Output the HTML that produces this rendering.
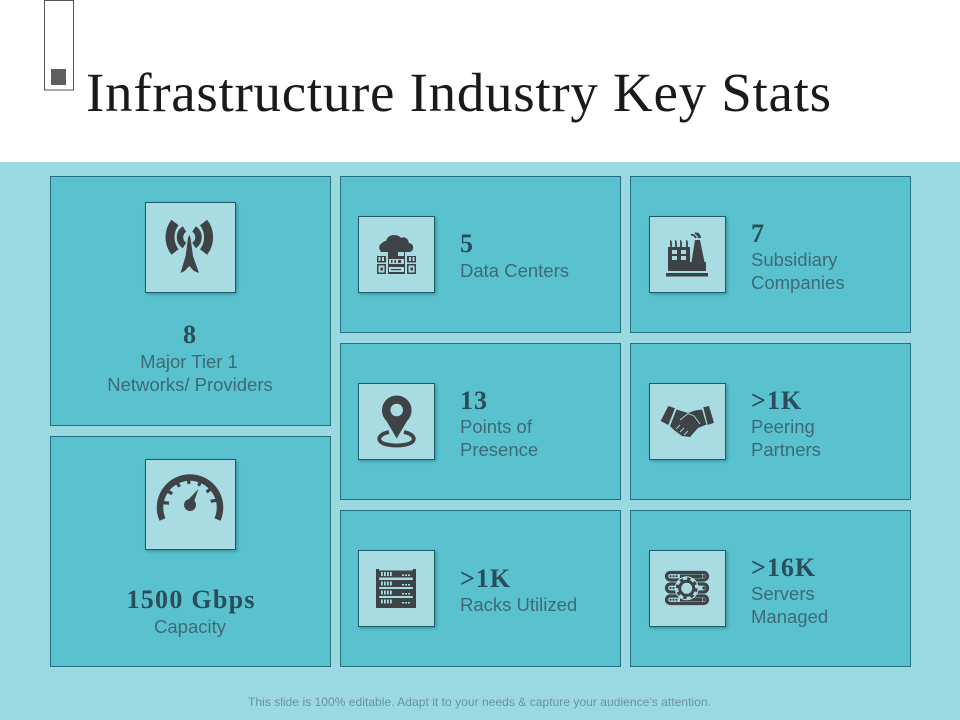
<!DOCTYPE html>
<html lang="en">
<head>
<meta charset="utf-8">
<title>Infrastructure Industry Key Stats</title>
<style>
html,body{margin:0;padding:0;background:#fff;}
svg{display:block;}
.card{fill:#5ac2cf;stroke:#23727e;stroke-width:1;}
.box{fill:#a9dbe2;stroke:#1c5a66;stroke-width:1;filter:url(#shadow);}
.num{font-family:"Liberation Serif",serif;font-weight:bold;font-size:26px;fill:#2b4c5a;letter-spacing:1px;}
.lab{font-family:"Liberation Sans",sans-serif;font-size:18.5px;fill:#3d6a76;}
.ink{fill:#3d4346;}
.inkl{fill:none;stroke:#3d4346;}
.lt{fill:#a9dbe2;}
.ltl{fill:none;stroke:#a9dbe2;}
</style>
</head>
<body>
<svg xmlns="http://www.w3.org/2000/svg" width="960" height="720" viewBox="0 0 960 720">
<defs>
<filter id="shadow" x="-10%" y="-10%" width="125%" height="125%"><feDropShadow dx="1.5" dy="1.5" stdDeviation="1.5" flood-color="#1c5a66" flood-opacity=".45"/></filter>
</defs>
<rect x="0" y="0" width="960" height="162" fill="#ffffff"/>
<rect x="0" y="162" width="960" height="558" fill="#9bd9e2"/>

<g>
<rect x="44.5" y="0.5" width="29" height="89.5" fill="#fff" stroke="#555" stroke-width="1"/>
<rect x="51" y="69" width="15" height="16" fill="#5e5e5e"/>
</g>
<text x="86" y="111" font-family="'Liberation Serif',serif" font-size="55" fill="#1a1a1a" textLength="745" lengthAdjust="spacing">Infrastructure Industry Key Stats</text>

<rect class="card" x="50.5" y="176.5" width="280" height="249"/>
<rect class="card" x="50.5" y="436.5" width="280" height="230"/>
<rect class="card" x="340.5" y="176.5" width="280" height="156"/>
<rect class="card" x="340.5" y="343.5" width="280" height="156"/>
<rect class="card" x="340.5" y="510.5" width="280" height="156"/>
<rect class="card" x="630.5" y="176.5" width="280" height="156"/>
<rect class="card" x="630.5" y="343.5" width="280" height="156"/>
<rect class="card" x="630.5" y="510.5" width="280" height="156"/>

<rect class="box" x="145.5" y="202.5" width="90" height="90"/>
<rect class="box" x="145.5" y="459.5" width="90" height="90"/>
<rect class="box" x="358.5" y="216.5" width="76" height="76"/>
<rect class="box" x="358.5" y="383.5" width="76" height="76"/>
<rect class="box" x="358.5" y="550.5" width="76" height="76"/>
<rect class="box" x="649.5" y="216.5" width="76" height="76"/>
<rect class="box" x="649.5" y="383.5" width="76" height="76"/>
<rect class="box" x="649.5" y="550.5" width="76" height="76"/>

<g>
<path class="ink" d="M189.3 235 L190.5 238 L193 256 L199 273 L194 271 L189.3 266 L184.6 271 L180.5 273 L185.6 256 L188 238 Z"/>
<path class="inkl" stroke-width="9" d="M175 222.5 A24.3 24.3 0 0 0 175 252"/>
<path class="inkl" stroke-width="9" d="M203.6 222.5 A24.3 24.3 0 0 1 203.6 252"/>
<path class="inkl" stroke-width="6.5" d="M184.5 229 A9.8 9.8 0 0 0 184.5 245.5"/>
<path class="inkl" stroke-width="6.5" d="M194 229 A9.8 9.8 0 0 1 194 245.5"/>
</g>

<g>
<path class="inkl" stroke-width="6.5" d="M162.5 519.5 A30 30 0 1 1 217.5 519.5"/>
<g class="ink">
<rect x="188.4" y="476" width="3.2" height="8" transform="rotate(-85 190 505)"/>
<rect x="188.4" y="476" width="3.2" height="8" transform="rotate(-58 190 505)"/>
<rect x="188.4" y="476" width="3.2" height="8" transform="rotate(-30 190 505)"/>
<rect x="188.4" y="476" width="3.2" height="8" transform="rotate(-3 190 505)"/>
<rect x="188.4" y="476" width="3.2" height="8" transform="rotate(24 190 505)"/>
<rect x="188.4" y="476" width="3.2" height="8" transform="rotate(52 190 505)"/>
<rect x="188.4" y="476" width="3.2" height="8" transform="rotate(80 190 505)"/>
</g>
<circle class="ink" cx="190" cy="505" r="6"/>
<path class="ink" d="M198.5 489 L193.5 503 L187 501 Z"/>
</g>

<g>
<path class="ink" d="M381 252 Q377 246 382 243 Q384 241 386 241 Q388 235 394 235 Q399 235 401 238 Q405 236 408 240 Q409 243 409 243 Q414 244 413 249 Q412 252 409 252 Z"/>
<rect class="ink" x="388" y="251" width="17" height="23"/>
<g class="lt">
<rect x="398" y="252" width="6" height="4"/>
<rect x="389" y="259" width="15" height="5"/>
<rect x="389" y="267" width="15" height="5"/>
</g>
<g class="ink">
<rect x="391" y="260" width="1.5" height="3"/><rect x="394.5" y="260" width="1.5" height="3"/><rect x="398" y="260" width="3" height="3"/>
<rect x="391" y="269" width="10" height="1.2"/>
</g>
<rect class="ink" x="377" y="256" width="9" height="6.5"/>
<rect class="ink" x="377" y="264" width="9" height="10"/>
<rect class="ink" x="407" y="256" width="9" height="6.5"/>
<rect class="ink" x="407" y="264" width="9" height="10"/>
<g class="lt">
<rect x="378.5" y="257" width="2" height="4"/><rect x="382" y="257" width="2" height="4"/>
<rect x="409" y="257" width="2" height="4"/><rect x="412.5" y="257" width="2" height="4"/>
<rect x="378.5" y="265.5" width="6" height="7"/><rect x="408.5" y="265.5" width="6" height="7"/>
</g>
<rect class="ink" x="380.5" y="267.5" width="2.5" height="3"/><rect class="ink" x="410.5" y="267.5" width="2.5" height="3"/>
</g>

<g>
<path class="inkl" stroke-width="3.8" d="M389 432 C380 434 378 438 380 441 C384 447 409 447 413 441 C415 438 413 434 404 432"/>
<path class="ink" d="M396.7 438.5 L386.5 421 A14.8 14.8 0 1 1 407 421 Z"/>
<circle class="lt" cx="396.7" cy="410" r="6.3"/>
</g>

<g>
<rect class="ink" x="376" y="569" width="3.2" height="39"/>
<rect class="ink" x="412.8" y="569" width="3.2" height="39"/>
<rect class="ink" x="376" y="605" width="40" height="3"/>
<rect class="ink" x="379" y="570.5" width="34" height="7"/>
<rect class="ink" x="379" y="580" width="34" height="7"/>
<rect class="ink" x="379" y="589" width="34" height="7"/>
<rect class="ink" x="379" y="598" width="34" height="7"/>
<g class="lt">
<rect x="381" y="572" width="1.8" height="4"/><rect x="384" y="572" width="1.8" height="4"/><rect x="387" y="572" width="1.8" height="4"/><rect x="390" y="572" width="1.8" height="4"/><rect x="402" y="574.5" width="2" height="1.5"/><rect x="405" y="574.5" width="2" height="1.5"/><rect x="408" y="574.5" width="2" height="1.5"/>
<rect x="381" y="581.5" width="1.8" height="4"/><rect x="384" y="581.5" width="1.8" height="4"/><rect x="387" y="581.5" width="1.8" height="4"/><rect x="390" y="581.5" width="1.8" height="4"/><rect x="402" y="584" width="2" height="1.5"/><rect x="405" y="584" width="2" height="1.5"/><rect x="408" y="584" width="2" height="1.5"/>
<rect x="381" y="590.5" width="1.8" height="4"/><rect x="384" y="590.5" width="1.8" height="4"/><rect x="387" y="590.5" width="1.8" height="4"/><rect x="390" y="590.5" width="1.8" height="4"/><rect x="402" y="593" width="2" height="1.5"/><rect x="405" y="593" width="2" height="1.5"/><rect x="408" y="593" width="2" height="1.5"/>
<rect x="381" y="599.5" width="1.8" height="4"/><rect x="384" y="599.5" width="1.8" height="4"/><rect x="387" y="599.5" width="1.8" height="4"/><rect x="390" y="599.5" width="1.8" height="4"/><rect x="402" y="602" width="2" height="1.5"/><rect x="405" y="602" width="2" height="1.5"/><rect x="408" y="602" width="2" height="1.5"/>
</g>
</g>

<g>
<rect class="ink" x="668" y="247" width="22" height="15"/>
<path class="ink" d="M695 240 L700 240 L704.5 262 L691.5 262 Z"/>
<rect class="ink" x="668" y="262" width="38" height="9"/>
<rect class="ink" x="666" y="273" width="42" height="3.5"/>
<g class="lt">
<rect x="672" y="250" width="5" height="4"/><rect x="681" y="250" width="5" height="4"/>
<rect x="672" y="256" width="5" height="4"/><rect x="681" y="256" width="5" height="4"/>
</g>
<g class="inkl" stroke-width="1.8">
<path d="M671 247 V243 Q671 241 670 241"/><path d="M676 247 V243 Q676 241 675 241"/><path d="M681 247 V243 Q681 241 680 241"/><path d="M687 247 V243 Q687 241 686 241"/>
<path d="M691 235 Q694 234 696 238"/><path d="M695 233 Q698 234 699 238"/><path d="M697 233 Q700 235 700 238"/>
</g>
</g>

<g>
<path class="ink" d="M668.3 406 L675 408.3 L668.3 425 L660.7 421 Z"/>
<path class="ink" d="M703.3 407.3 L709 406 L714 422.7 L707.7 425 Z"/>
<path class="ink" d="M676.5 409.5 L688 413 L695 410.5 L702 409.5 L706.5 424.5 L698 428 L690 437 L682 436 L674 430 L670 426 Z"/>
<g class="ltl" stroke-width="0.9">
<path d="M680 420 L688 413.5 L694 416 L700 424"/>
<path d="M676 429 L680 425"/><path d="M680 432 L684 428"/><path d="M684 435 L688 431"/>
</g>
</g>

<g>
<rect class="inkl" x="666.5" y="572.5" width="41" height="7.5" rx="3.7" stroke-width="3.2"/>
<rect class="inkl" x="666.5" y="584" width="41" height="8" rx="4" stroke-width="3.2"/>
<rect class="inkl" x="666.5" y="596" width="41" height="7.5" rx="3.7" stroke-width="3.2"/>
<g class="ink">
<rect x="680" y="574.5" width="22" height="3.5"/><rect x="680" y="598" width="22" height="3.5"/>
<circle cx="704" cy="576.2" r="1.6"/><circle cx="704" cy="588" r="1.6"/><circle cx="704" cy="599.7" r="1.6"/>
<circle cx="670.5" cy="576.2" r="1.1"/><circle cx="673.5" cy="576.2" r="1.1"/><circle cx="676.5" cy="576.2" r="1.1"/>
<circle cx="670.5" cy="588" r="1.1"/><circle cx="673.5" cy="588" r="1.1"/><circle cx="676.5" cy="588" r="1.1"/>
<circle cx="670.5" cy="599.7" r="1.1"/><circle cx="673.5" cy="599.7" r="1.1"/><circle cx="676.5" cy="599.7" r="1.1"/>
</g>
<circle class="lt" cx="686.7" cy="588.3" r="12"/>
<circle class="inkl" cx="686.7" cy="588.3" r="7" stroke-width="3"/>
<circle class="inkl" cx="686.7" cy="588.3" r="9.4" stroke-width="3" stroke-dasharray="3.4 4"/>
</g>

<text class="num" x="190" y="343" text-anchor="middle">8</text>
<text class="lab" x="189" y="368" text-anchor="middle">Major Tier 1</text>
<text class="lab" x="190" y="391" text-anchor="middle">Networks/ Providers</text>

<text class="num" x="191" y="608" text-anchor="middle" textLength="129" lengthAdjust="spacing">1500 Gbps</text>
<text class="lab" x="190" y="633" text-anchor="middle">Capacity</text>

<text class="num" x="460" y="252">5</text>
<text class="lab" x="460" y="277">Data Centers</text>

<text class="num" x="460" y="409">13</text>
<text class="lab" x="460" y="433">Points of</text>
<text class="lab" x="460" y="456">Presence</text>

<text class="num" x="460" y="587">&gt;1K</text>
<text class="lab" x="460" y="611">Racks Utilized</text>

<text class="num" x="751" y="242">7</text>
<text class="lab" x="751" y="266">Subsidiary</text>
<text class="lab" x="751" y="289">Companies</text>

<text class="num" x="751" y="409">&gt;1K</text>
<text class="lab" x="751" y="433">Peering</text>
<text class="lab" x="751" y="456">Partners</text>

<text class="num" x="751" y="576">&gt;16K</text>
<text class="lab" x="751" y="600">Servers</text>
<text class="lab" x="751" y="623">Managed</text>

<text x="248" y="706" font-family="'Liberation Sans',sans-serif" font-size="12" fill="#6a929d" textLength="463" lengthAdjust="spacing">This slide is 100% editable. Adapt it to your needs &amp; capture your audience’s attention.</text>
</svg>
</body>
</html>
